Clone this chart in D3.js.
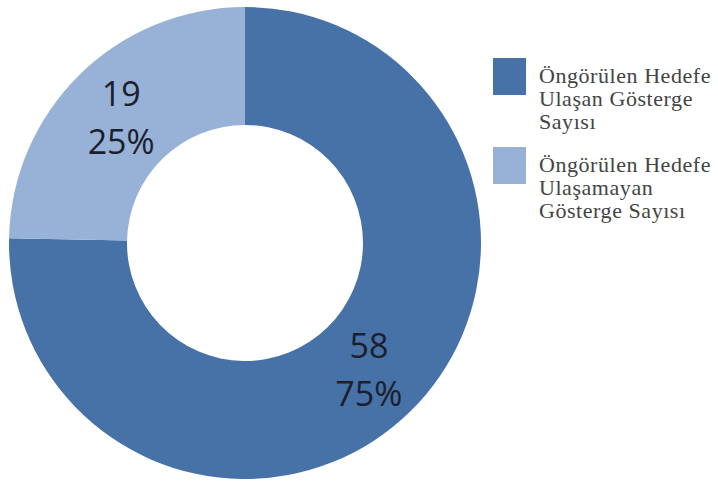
<!DOCTYPE html>
<html><head><meta charset="utf-8">
<script src="https://cdn.jsdelivr.net/npm/d3@7"></script>
<style>html,body{margin:0;padding:0;background:#fff;}</style>
</head><body>
<svg id="chart" width="718" height="481"></svg>
<script>
const categories = ["Öngörülen Hedefe Ulaşan Gösterge Sayısı", "Öngörülen Hedefe Ulaşamayan Gösterge Sayısı"];
const values = [58, 19];
const legendLines = [["Öngörülen Hedefe", "Ulaşan Gösterge", "Sayısı"], ["Öngörülen Hedefe", "Ulaşamayan", "Gösterge Sayısı"]];
const colors = ["#4672a8", "#97b1d7"];

const svg = d3.select("#chart");
const cx = 245, cy = 243, rOuter = 236, rInner = 118;
const total = d3.sum(values);
const pie = d3.pie().sort(null).value(d => d)(values);
const arc = d3.arc().innerRadius(rInner).outerRadius(rOuter);
const g = svg.append("g").attr("transform", `translate(${cx},${cy})`);
g.selectAll("path").data(pie).join("path")
  .attr("d", arc).attr("fill", (d, i) => colors[i]);

const lab = g.selectAll("g.lab").data(pie).join("g").attr("class", "lab")
  .attr("transform", d => `translate(${arc.centroid(d)})`);
lab.append("text").attr("text-anchor", "middle").attr("y", -11)
  .attr("font-family", "Open Sans, sans-serif").attr("font-size", 34).attr("fill", "#1b1f2e")
  .text(d => d.value);
lab.append("text").attr("text-anchor", "middle").attr("y", 37)
  .attr("font-family", "Open Sans, sans-serif").attr("font-size", 34).attr("fill", "#1b1f2e")
  .text(d => Math.round(d.value / total * 100) + "%");

// measure legend font so the first line spans ~172px
const targetW = 172;
let fs = 22, ls = 0;
const probe = svg.append("text").attr("font-family", "Liberation Serif, serif").attr("font-size", fs).text(legendLines[0][0]);
const w0 = probe.node().getComputedTextLength();
probe.remove();
if (w0 < targetW) ls = (targetW - w0) / legendLines[0][0].length;
else fs = fs * targetW / w0;

const leg = svg.append("g");
const legTop = [58, 147];
categories.forEach((c, i) => {
  leg.append("rect").attr("x", 493).attr("y", legTop[i]).attr("width", 33).attr("height", 37).attr("fill", colors[i]);
  const t = leg.append("text").attr("font-family", "Liberation Serif, serif").attr("font-size", fs)
    .attr("letter-spacing", ls).attr("fill", "#444");
  legendLines[i].forEach((ln, j) => {
    t.append("tspan").attr("x", 539).attr("y", legTop[i] + 25 + j * 23).text(ln);
  });
});
</script>
</body></html>
